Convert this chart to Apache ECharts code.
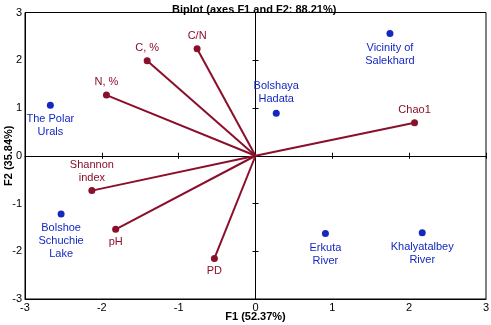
<!DOCTYPE html>
<html><head><meta charset="utf-8">
<script src="https://cdn.jsdelivr.net/npm/echarts@6/dist/echarts.min.js"></script>
<style>html,body{margin:0;padding:0;background:#fff}#c{width:491px;height:325px}</style>
</head><body><div id="c"></div>
<script>
const obsNames = ['Vicinity of\nSalekhard','Bolshaya\nHadata','The Polar\nUrals','Bolshoe\nSchuchie\nLake','Erkuta\nRiver','Khalyatalbey\nRiver'];
const obsF1 = [1.75, 0.27, -2.67, -2.53, 0.91, 2.17];
const obsF2 = [2.56, 0.89, 1.06, -1.22, -1.63, -1.61];
const obsLabelPos = ['bottom','top','bottom','bottom','bottom','bottom'];

const varNames = ['C/N','C, %','N, %','Chao1','Shannon\nindex','pH','PD'];
const varF1 = [-0.76, -1.41, -1.94, 2.07, -2.13, -1.82, -0.535];
const varF2 = [2.24, 1.99, 1.27, 0.69, -0.73, -1.54, -2.15];
const varLabelPos = ['top','top','top','top','top','bottom','bottom'];

const axisTicks = [-3,-2,-1,0,1,2,3];

const RED = '#8a0f2a', BLUE = '#1428c0', FONT = 'Liberation Sans, Arial, sans-serif';
const chart = echarts.init(document.getElementById('c'));
const baseAxis = {type:'value', min:axisTicks[0], max:axisTicks[axisTicks.length-1], interval:1, splitLine:{show:false}};
chart.setOption({
  animation:false,
  textStyle:{fontFamily:FONT},
  title:{text:'Biplot (axes F1 and F2: 88.21%)', left:167, top:-1, textStyle:{fontSize:11, fontWeight:'bold', color:'#000', fontFamily:FONT}},
  grid:{left:25, right:5, top:12.5, bottom:26, containLabel:false, outerBoundsMode:'none', show:true, borderColor:'#000', borderWidth:1, backgroundColor:'transparent'},
  xAxis:[
    Object.assign({}, baseAxis, {position:'bottom', axisLine:{onZero:false, lineStyle:{color:'#000', width:1}}, axisTick:{show:false},
      axisLabel:{fontSize:11, color:'#000', margin:3, fontFamily:FONT},
      name:'F1 (52.37%)', nameLocation:'middle', nameGap:12, nameMoveOverlap:false, nameTextStyle:{fontSize:11, fontWeight:'bold', color:'#000', fontFamily:FONT}}),
    Object.assign({}, baseAxis, {axisLine:{onZero:true, onZeroAxisIndex:0, lineStyle:{color:'#000', width:1}}, axisTick:{show:true, inside:false, length:3, lineStyle:{color:'#000'}}, axisLabel:{show:false}}),
    Object.assign({}, baseAxis, {axisLine:{show:false, onZero:true, onZeroAxisIndex:0}, axisTick:{show:true, inside:true, length:3, lineStyle:{color:'#000'}}, axisLabel:{show:false}})
  ],
  yAxis:[
    Object.assign({}, baseAxis, {position:'left', axisLine:{onZero:false, lineStyle:{color:'#000', width:1}}, axisTick:{show:false},
      axisLabel:{fontSize:11, color:'#000', margin:3, fontFamily:FONT},
      name:'F2 (35.84%)', nameLocation:'middle', nameGap:11, nameMoveOverlap:false, nameTextStyle:{fontSize:11, fontWeight:'bold', color:'#000', fontFamily:FONT}}),
    Object.assign({}, baseAxis, {axisLine:{onZero:true, onZeroAxisIndex:0, lineStyle:{color:'#000', width:1}}, axisTick:{show:true, inside:false, length:3, lineStyle:{color:'#000'}}, axisLabel:{show:false}}),
    Object.assign({}, baseAxis, {axisLine:{show:false, onZero:true, onZeroAxisIndex:0}, axisTick:{show:true, inside:true, length:3, lineStyle:{color:'#000'}}, axisLabel:{show:false}})
  ],
  series:[
    {type:'lines', coordinateSystem:'cartesian2d', silent:true, z:3,
      lineStyle:{color:RED, width:2, opacity:1},
      data: varF1.map((x,i)=>({coords:[[0,0],[x,varF2[i]]]}))},
    {type:'scatter', symbolSize:7, z:4, itemStyle:{color:RED, opacity:1},
      data: varF1.map((x,i)=>({value:[x,varF2[i]], name:varNames[i],
        label:{show:true, position:varLabelPos[i], distance:3, formatter:'{b}', color:RED, opacity:1, fontSize:11, lineHeight:13, fontFamily:FONT}}))},
    {type:'scatter', symbolSize:7, z:4, itemStyle:{color:BLUE, opacity:1},
      data: obsF1.map((x,i)=>({value:[x,obsF2[i]], name:obsNames[i],
        label:{show:true, position:obsLabelPos[i], distance:4, formatter:'{b}', color:BLUE, opacity:1, fontSize:11, lineHeight:13, fontFamily:FONT}}))}
  ]
});
</script></body></html>
